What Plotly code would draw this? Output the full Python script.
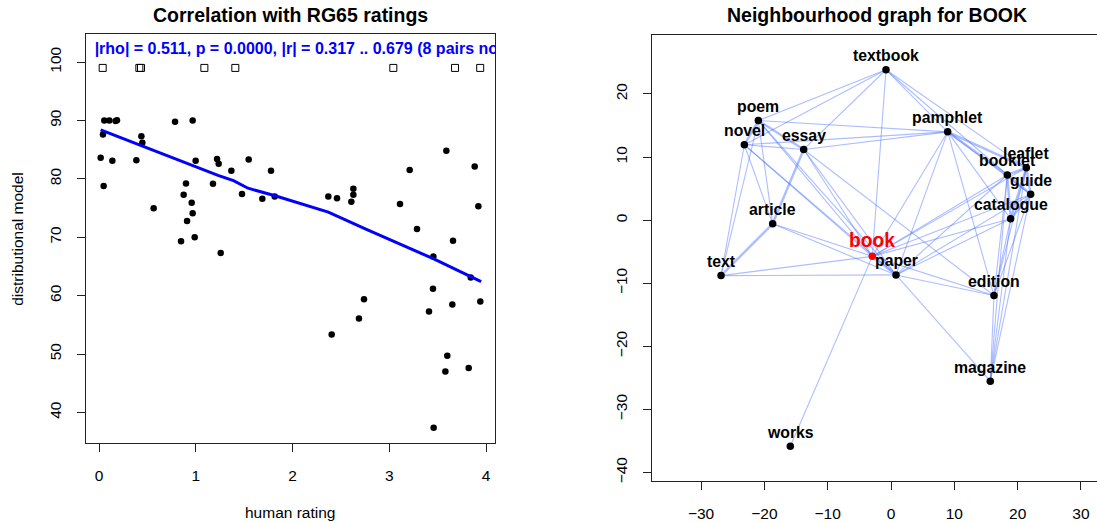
import plotly.graph_objects as go

W, H = 1097, 523

# ---------------- left panel data ----------------
left_title = "Correlation with RG65 ratings"
stats_text = "|rho| = 0.511, p = 0.0000, |r| = 0.317 .. 0.679 (8 pairs not found)"
x_label = "human rating"
y_label = "distributional model"

human_rating = [0.055, 0.107, 0.172, 0.186, 0.041, 0.017, 0.048, 0.138, 0.386, 0.438,
                0.448, 0.565, 0.786, 0.968, 0.999, 0.875, 0.899, 0.958, 1.178, 1.220,
                1.237, 1.368, 1.478, 1.547, 1.688, 1.778, 1.816, 2.370, 2.460, 2.608,
                2.629, 2.629, 3.111, 3.211, 3.590, 3.883, 3.921, 0.968, 0.910, 0.848,
                0.989, 1.258, 2.405, 2.687, 2.739, 3.287, 3.456, 3.452, 3.411, 3.652,
                3.659, 3.600, 3.580, 3.821, 3.842, 3.941, 3.459]
model_score = [90.0, 90.0, 89.9, 90.06, 87.6, 83.6, 78.8, 83.1, 83.2, 87.3,
               86.2, 74.95, 89.8, 90.0, 83.1, 77.3, 79.2, 75.9, 79.15, 83.4,
               82.6, 81.4, 77.4, 83.3, 76.6, 81.4, 77.0, 77.0, 76.7, 76.1,
               77.3, 78.3, 75.7, 81.5, 84.8, 82.1, 75.3, 74.1, 72.8, 69.3,
               70.0, 67.3, 53.35, 56.1, 59.4, 71.4, 66.7, 61.2, 57.3, 58.5,
               69.4, 49.7, 47.0, 47.6, 63.1, 59.0, 37.4]
missing_rating = [0.038, 0.417, 0.434, 1.089, 1.409, 3.042, 3.680, 3.940]
missing_level = 99
lowess_rating = [0.017, 0.45, 0.9, 1.23, 1.39, 1.54, 1.82, 2.37, 2.77, 3.11, 3.46, 3.95]
lowess_score = [88.4, 85.6, 82.7, 80.6, 79.7, 78.4, 77.1, 74.3, 71.3, 68.9, 66.3, 62.4]
left_xticks = [0, 1, 2, 3, 4]
left_yticks = [40, 50, 60, 70, 80, 90, 100]

# ---------------- right panel data ----------------
right_title = "Neighbourhood graph for BOOK"
words = ["textbook", "poem", "novel", "essay", "pamphlet", "leaflet", "booklet", "guide",
         "catalogue", "article", "book", "text", "paper", "edition", "magazine", "works"]
word_x = [-0.79, -20.95, -23.16, -13.79, 8.95, 21.37, 18.37, 22.05,
          18.89, -18.69, -2.95, -26.84, 0.79, 16.26, 15.68, -15.9]
word_y = [23.84, 15.79, 11.95, 11.21, 14.0, 8.32, 7.16, 4.1,
          0.21, -0.58, -5.74, -8.79, -8.68, -11.95, -25.53, -35.84]
target = "book"
edges_strong = [("poem", "novel"), ("essay", "article"), ("pamphlet", "booklet"),
                ("pamphlet", "leaflet"), ("booklet", "leaflet"), ("booklet", "guide"),
                ("booklet", "catalogue"), ("leaflet", "guide"), ("guide", "catalogue"),
                ("leaflet", "catalogue"), ("article", "text"), ("book", "paper"),
                ("poem", "essay")]
edges_weak = [("textbook", "poem"), ("textbook", "novel"), ("textbook", "essay"),
              ("textbook", "book"), ("textbook", "pamphlet"), ("textbook", "booklet"),
              ("textbook", "leaflet"),
              ("poem", "pamphlet"), ("poem", "article"), ("poem", "text"), ("poem", "book"),
              ("poem", "paper"),
              ("novel", "essay"), ("novel", "pamphlet"), ("novel", "text"), ("novel", "article"),
              ("novel", "book"), ("novel", "paper"),
              ("essay", "pamphlet"), ("essay", "book"), ("essay", "paper"), ("essay", "edition"),
              ("article", "book"), ("article", "paper"),
              ("text", "book"), ("text", "paper"),
              ("book", "pamphlet"), ("book", "booklet"), ("book", "leaflet"), ("book", "guide"),
              ("book", "catalogue"), ("book", "edition"), ("book", "works"),
              ("paper", "pamphlet"), ("paper", "booklet"), ("paper", "guide"),
              ("paper", "catalogue"), ("paper", "edition"), ("paper", "magazine"),
              ("pamphlet", "guide"), ("pamphlet", "catalogue"), ("pamphlet", "edition"),
              ("edition", "booklet"), ("edition", "leaflet"), ("edition", "guide"),
              ("edition", "catalogue"), ("edition", "magazine"),
              ("magazine", "booklet"), ("magazine", "guide"), ("magazine", "catalogue"),
              ("magazine", "leaflet")]
right_xticks = [-30, -20, -10, 0, 10, 20, 30]
right_yticks = [-40, -30, -20, -10, 0, 10, 20]

# ---------------- figure ----------------
FONT = "Liberation Sans, Arial, Helvetica, sans-serif"
fig = go.Figure()

# left panel
fig.add_trace(go.Scatter(x=human_rating, y=model_score, mode="markers",
                         marker=dict(color="black", size=6.5), xaxis="x", yaxis="y",
                         showlegend=False, hoverinfo="skip"))
fig.add_trace(go.Scatter(x=missing_rating, y=[missing_level] * len(missing_rating), mode="markers",
                         marker=dict(symbol="square-open", color="black", size=7,
                                     line=dict(width=1)),
                         xaxis="x", yaxis="y", showlegend=False, hoverinfo="skip"))
fig.add_trace(go.Scatter(x=lowess_rating, y=lowess_score, mode="lines",
                         line=dict(color="#0000ff", width=3), xaxis="x", yaxis="y",
                         showlegend=False, hoverinfo="skip"))
fig.add_trace(go.Scatter(x=[-0.045], y=[102.0], mode="text", text=[stats_text],
                         textposition="middle right", cliponaxis=True,
                         textfont=dict(family=FONT, size=16, color="#0000ff", weight="bold"),
                         xaxis="x", yaxis="y", showlegend=False, hoverinfo="skip"))

# right panel edges
pos = {w: (x, y) for w, x, y in zip(words, word_x, word_y)}
for group, width in ((edges_weak, 1.1), (edges_strong, 2.4)):
    for a, b in group:
        fig.add_trace(go.Scatter(x=[pos[a][0], pos[b][0]], y=[pos[a][1], pos[b][1]],
                                 mode="lines", line=dict(color="rgba(70,110,255,0.45)", width=width),
                                 xaxis="x2", yaxis="y2", showlegend=False, hoverinfo="skip"))

colors = ["red" if w == target else "black" for w in words]
fig.add_trace(go.Scatter(x=word_x, y=word_y, mode="markers",
                         marker=dict(color=colors, size=7.5), xaxis="x2", yaxis="y2",
                         showlegend=False, hoverinfo="skip"))

annotations = []
for w, x, y in zip(words, word_x, word_y):
    is_t = (w == target)
    annotations.append(dict(x=x, y=y, xref="x2", yref="y2", text=w, showarrow=False,
                            yshift=15.5 if is_t else 14, xanchor="center", yanchor="middle",
                            font=dict(family=FONT, size=19.3 if is_t else 15.8,
                                      color="red" if is_t else "black", weight="bold")))

annotations += [
    dict(text=left_title, x=290.4 / W, y=1 - 15 / H, xref="paper", yref="paper", showarrow=False,
         xanchor="center", yanchor="middle", font=dict(family=FONT, size=19.5, color="black", weight="bold")),
    dict(text=right_title, x=876.7 / W, y=1 - 15 / H, xref="paper", yref="paper", showarrow=False,
         xanchor="center", yanchor="middle", font=dict(family=FONT, size=19.5, color="black", weight="bold")),
    dict(text=x_label, x=290.4 / W, y=1 - 514 / H, xref="paper", yref="paper", showarrow=False,
         xanchor="center", yanchor="middle", font=dict(family=FONT, size=15.5, color="black")),
    dict(text=y_label, x=18 / W, y=1 - 239.7 / H, xref="paper", yref="paper", showarrow=False,
         textangle=-90, xanchor="center", yanchor="middle", font=dict(family=FONT, size=15.5, color="black")),
]

axis_common = dict(showgrid=False, zeroline=False, showline=True, linecolor="#222222", linewidth=1,
                   ticks="outside", ticklen=8, tickcolor="#222222", tickwidth=1,
                   tickfont=dict(family=FONT, size=15.5, color="black"), ticklabelstandoff=10)

fig.update_layout(
    width=W, height=H, margin=dict(l=0, r=0, t=0, b=0),
    paper_bgcolor="white", plot_bgcolor="white", showlegend=False,
    xaxis=dict(domain=[85.7 / W, 495 / W], range=[-0.1375, 4.093], tickvals=left_xticks,
               anchor="y", mirror=True, **axis_common),
    yaxis=dict(domain=[1 - 445 / H, 1 - 34.3 / H], range=[34.72, 104.78], tickvals=left_yticks,
               tickangle=-90, anchor="x", mirror=True, **axis_common),
    xaxis2=dict(domain=[651.7 / W, 1.0], range=[-37.79, 32.53], tickvals=right_xticks,
                anchor="y2", mirror=True, **axis_common),
    yaxis2=dict(domain=[1 - 483.3 / H, 1 - 34.7 / H], range=[-41.42, 29.42], tickvals=right_yticks,
                tickangle=-90, anchor="x2", mirror=False, **axis_common),
    annotations=annotations,
)

fig.write_html("out.html", config={"displayModeBar": False, "staticPlot": True},
               post_script="document.body.style.margin='0';document.body.style.overflow='hidden';")
